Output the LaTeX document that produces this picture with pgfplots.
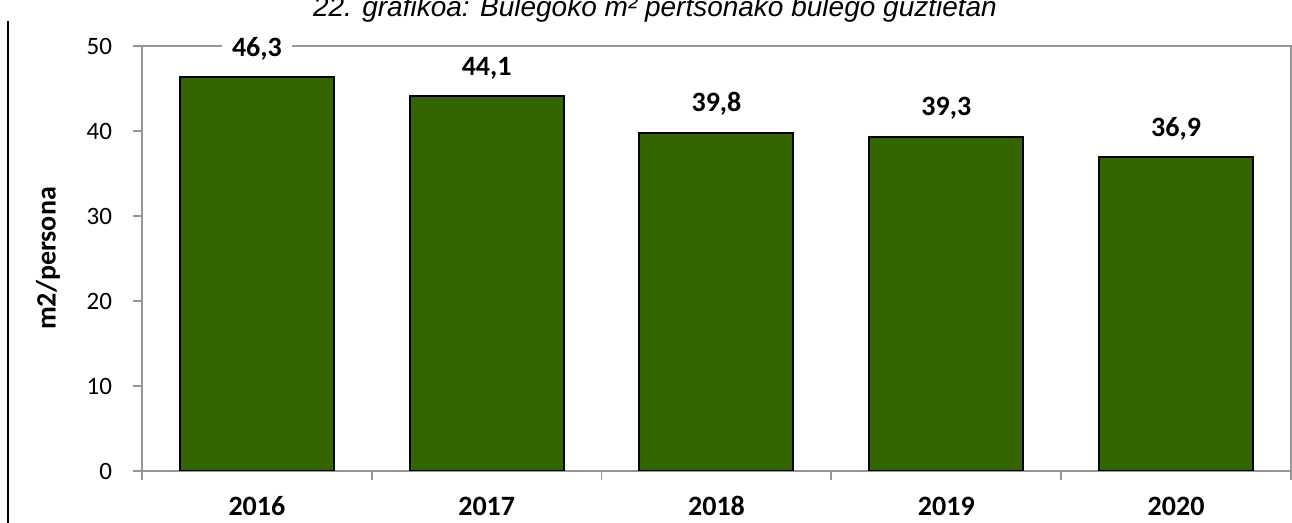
\documentclass[border=0pt]{standalone}
\usepackage{fontspec}
\setmainfont{Carlito}
\newfontfamily\titlefont{Liberation Sans}
\usepackage{pgfplots}
\pgfplotsset{compat=1.18}

\definecolor{barGreen}{RGB}{51,102,0}
\definecolor{axisGray}{RGB}{150,150,150}

\begin{document}
\begin{tikzpicture}
\begin{axis}[
    at={(0,0)}, anchor=south west,
    scale only axis,
    width=574.5pt, height=212.5pt,
    xmin=0.5, xmax=5.5,
    ymin=0, ymax=50,
    ytick={0,10,20,30,40,50},
    xtick={0.5,1.5,2.5,3.5,4.5,5.5},
    xticklabels={2016,2017,2018,2019,2020},
    x tick label as interval,
    tick align=outside,
    major tick length=4.5pt,
    axis line style={axisGray, line width=0.9pt},
    tick style={axisGray, line width=0.9pt},
    ytick pos=left, xtick pos=bottom,
    /pgf/number format/assume math mode=true,
    yticklabel style={font=\fontsize{12.5}{14}\selectfont, anchor=east, xshift=-7pt},
    xticklabel style={font=\bfseries\fontsize{14}{16}\selectfont, anchor=base, text height=9pt, text depth=0pt, yshift=-18pt},
    ylabel={m2/persona},
    ylabel style={font=\bfseries\fontsize{14}{16}\selectfont, at={(axis description cs:-0.0818,0.5)}, anchor=center},
    point meta=explicit symbolic,
    nodes near coords,
    every node near coord/.append style={font=\bfseries\fontsize{14}{16}\selectfont, fill=white, anchor=base, yshift=10.5pt, inner xsep=5pt},
]
\addplot[ybar, bar width=77pt, fill=barGreen, draw=black, line width=1pt]
    coordinates {(1,46.3)[46,3] (2,44.1)[44,1] (3,39.8)[39,8] (4,39.3)[39,3] (5,36.9)[36,9]};
\end{axis}
\node[font=\titlefont\itshape\fontsize{14}{16}\selectfont, anchor=base] at (256.5pt,227pt) {22. grafikoa: Bulegoko m² pertsonako bulego guztietan};
\draw[black, line width=1pt] (-66.75pt,-30pt) -- (-66.75pt,225pt);
\pgfresetboundingbox
\path[use as bounding box] (-71pt,-26pt) rectangle (575pt,235.5pt);
\end{tikzpicture}
\end{document}
